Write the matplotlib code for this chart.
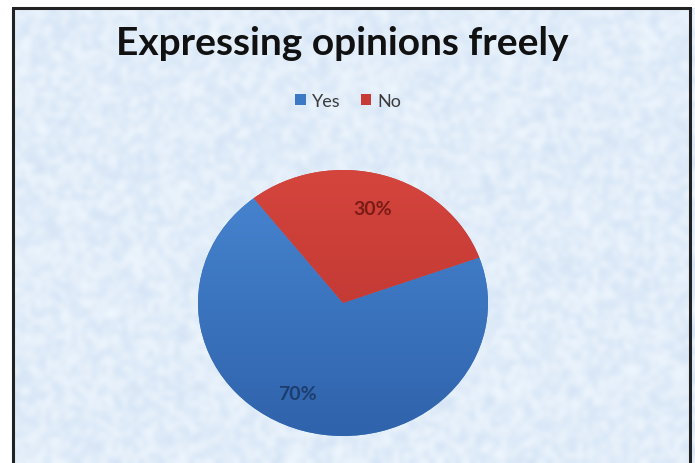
import numpy as np
import matplotlib.pyplot as plt
from matplotlib.colors import to_rgb
from matplotlib.patches import Rectangle

# survey answers
labels = ['Yes', 'No']
shares = [70, 30]
colors = ['#3b78c6', '#c83a35']
shade_top = ['#4886d2', '#d4453d']
shade_bottom = ['#2f63ab', '#b5302c']
pct_colors = ['#1e3c6e', '#7a1b16']

plt.rcParams['font.family'] = ['Lato', 'DejaVu Sans']

fig = plt.figure(figsize=(6.95, 4.64), dpi=100)

# paper-like backdrop
bg = fig.add_axes([0, 0, 1, 1])
bg.set_axis_off()
rng = np.random.default_rng(7)
tex = rng.random((90, 136))
lo = np.array([0.83, 0.89, 0.96])
hi = np.array([0.94, 0.97, 0.995])
img = lo + (hi - lo) * tex[..., None]
bg.imshow(img, extent=[0, 695, 464, 0], interpolation='bicubic', aspect='auto')
bg.set_xlim(0, 695)
bg.set_ylim(464, 0)
# white margin outside the frame
bg.add_patch(Rectangle((0, 0), 695, 8, color='white', zorder=2))
bg.add_patch(Rectangle((0, 0), 13, 464, color='white', zorder=2))
bg.plot([13, 13, 690, 690], [470, 8.5, 8.5, 470], color='#222222', lw=2.2,
        zorder=3, solid_joinstyle='miter')

fig.text(0.493, 1 - 55 / 464, 'Expressing opinions freely', ha='center',
         va='baseline', fontsize=28, fontweight='bold', color='#111111')

ax = fig.add_axes([198 / 695, 1 - 437 / 464, 290 / 695, 266 / 464])
ax.set_axis_off()
wedges, _, autotexts = ax.pie(shares, colors=colors, startangle=20,
                              counterclock=False, autopct='%d%%',
                              pctdistance=0.74, normalize=True,
                              textprops=dict(fontsize=14, fontweight='bold'))
ax.set_aspect('auto')

# soft vertical shading inside each slice
grad = np.linspace(0, 1, 256)[:, None]
for w, top, bot in zip(wedges, shade_top, shade_bottom):
    t = np.array(to_rgb(top))
    b = np.array(to_rgb(bot))
    shade = t + (b - t) * grad[..., None]
    im = ax.imshow(np.repeat(shade, 2, axis=1), extent=[-1, 1, -1, 1],
                   aspect='auto', zorder=w.get_zorder() + 0.1)
    im.set_clip_path(w)
for t, c in zip(autotexts, pct_colors):
    t.set_color(c)
    t.set_zorder(5)
# the big slice's label sits a little left of its bisector
ang = np.deg2rad(245)
autotexts[0].set_position((0.75 * np.cos(ang), 0.75 * np.sin(ang)))
ax.set_xlim(-1, 1)
ax.set_ylim(-1, 1)

fig.legend(wedges, labels, loc='center', bbox_to_anchor=(0.501, 1 - 102 / 464),
           ncol=2, frameon=False, fontsize=13, handlelength=0.6,
           handleheight=0.6, handletextpad=0.35, columnspacing=1.1,
           labelcolor='#3c3c3c')

fig.savefig('out.png', dpi=100)
